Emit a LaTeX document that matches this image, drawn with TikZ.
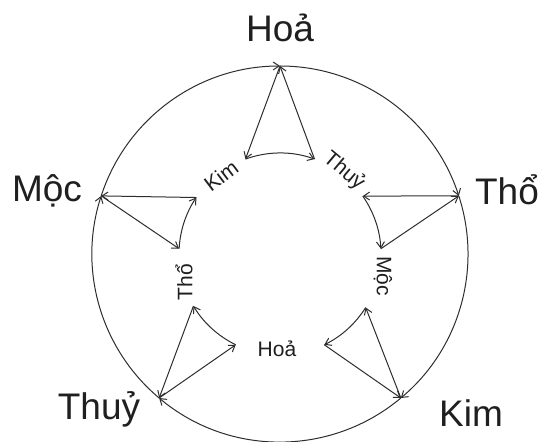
\documentclass[tikz,border=0pt]{standalone}
\usepackage{fontspec}
\setmainfont{Liberation Sans}
\usetikzlibrary{arrows.meta,calc}
\definecolor{ink}{HTML}{2E2E2E}
\begin{document}
\begin{tikzpicture}[x=1pt,y=1pt,
  arr/.style={draw=ink,line width=1pt,-{Straight Barb[length=6pt,width=8pt]}},
  biglabel/.style={font=\fontsize{37}{40}\selectfont,text=black!88,inner sep=0pt,anchor=base},
  smalllabel/.style={font=\fontsize{21}{23}\selectfont,text=black!88,inner sep=0pt}]
\useasboundingbox[fill=white] (0,0) rectangle (544,442);
\coordinate (C) at (280,188);
% outer apexes
\coordinate (aHoa)  at ($(C)+(90:188)$);
\coordinate (aTho)  at ($(C)+(18:188)$);
\coordinate (aKim)  at ($(C)+(-50:188)$);
\coordinate (aThuy) at ($(C)+(-130:188)$);
\coordinate (aMoc)  at ($(C)+(162:188)$);
% inner corners
\coordinate (hK) at ($(C)+(110:101)$);
\coordinate (hT) at ($(C)+(70:101)$);
\coordinate (tT) at ($(C)+(35:101)$);
\coordinate (tM) at ($(C)+(3:101)$);
\coordinate (kM) at ($(C)+(-32:101)$);
\coordinate (kH) at ($(C)+(-64:101)$);
\coordinate (yH) at ($(C)+(-116:101)$);
\coordinate (yT) at ($(C)+(-149:101)$);
\coordinate (mT) at ($(C)+(177:101)$);
\coordinate (mK) at ($(C)+(146:101)$);
% outer circle (generating cycle)
\draw[arr] (aMoc) arc[start angle=162,end angle=90,radius=188];
\draw[arr] (aHoa) arc[start angle=90,end angle=18,radius=188];
\draw[arr] (aTho) arc[start angle=18,end angle=-50,radius=188];
\draw[arr] (aKim) arc[start angle=-50,end angle=-130,radius=188];
\draw[arr] (aThuy) arc[start angle=-130,end angle=-198,radius=188];
% triangles
\draw[arr] (aHoa) -- (hK);
\draw[arr] (hT) -- (aHoa);
\draw[arr] (hK) arc[start angle=110,end angle=70,radius=101];
\draw[arr] (aTho) -- (tT);
\draw[arr] (tM) -- (aTho);
\draw[arr] (tT) arc[start angle=35,end angle=3,radius=101];
\draw[arr] (aKim) -- (kM);
\draw[arr] (kH) -- (aKim);
\draw[arr] (kM) arc[start angle=-32,end angle=-64,radius=101];
\draw[arr] (aThuy) -- (yH);
\draw[arr] (yT) -- (aThuy);
\draw[arr] (yH) arc[start angle=-116,end angle=-149,radius=101];
\draw[arr] (aMoc) -- (mT);
\draw[arr] (mK) -- (aMoc);
\draw[arr] (mT) arc[start angle=177,end angle=146,radius=101];
% outer labels
\node[biglabel] (lHoa)  at (280,400) {Hoả};
\node[biglabel] (lMoc)  at (47,240)  {Mộc};
\node[biglabel] (lTho)  at (507,237) {Thổ};
\node[biglabel] (lThuy) at (99,22)   {Thuỷ};
\node[biglabel] (lKim)  at (471,15)  {Kim};
% inner labels
\node[smalllabel,rotate=37]  (iKim)  at (221,266) {Kim};
\node[smalllabel,rotate=-40] (iThuy) at (344,271) {Thuỷ};
\node[smalllabel,rotate=-90] (iMoc)  at (383,166) {Mộc};
\node[smalllabel]            (iHoa)  at (277,93)  {Hoả};
\node[smalllabel,rotate=90]  (iTho)  at (184,160) {Thổ};
\end{tikzpicture}
\end{document}
